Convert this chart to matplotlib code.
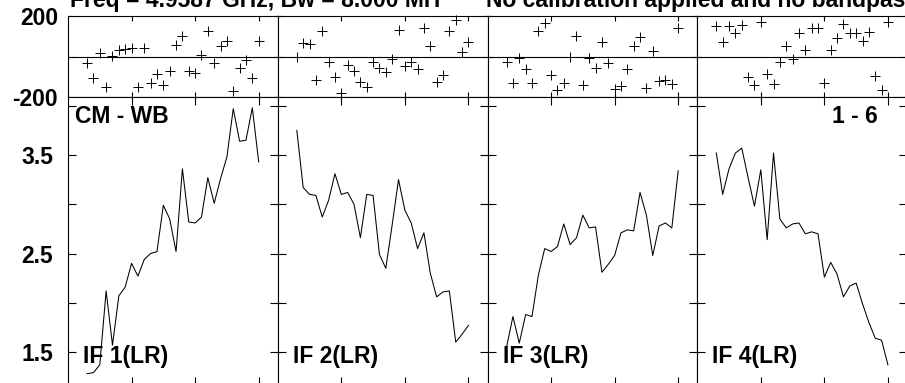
"""POSSM-style cross-power spectrum: phase (top) and amplitude (bottom) for four IFs."""

import matplotlib

matplotlib.use("Agg")
import matplotlib.pyplot as plt
from matplotlib.ticker import FixedLocator, NullFormatter

plt.rcParams["font.family"] = ["Liberation Sans", "DejaVu Sans"]
plt.rcParams["font.weight"] = "bold"

W, H = 905, 383                      # figure size in pixels (dpi 100)

CHANNELS = [3, 4, 5, 6, 7, 8, 9, 10, 11, 12, 13, 14, 15, 16,
            17, 18, 19, 20, 21, 22, 23, 24, 25, 26, 27, 28, 29, 30]
IF_LABELS = ["IF 1(LR)", "IF 2(LR)", "IF 3(LR)", "IF 4(LR)"]

PHASE = [
    [-33, -107, 17, -152, 3, 30, 38, 41, -152, 41, -129, -86, -140, -71,
     58, 102, -71, -83, 5, 124, -33, 50, 79, -169, -58, -17, -107, 79],
    [-2, 66, 63, -116, 124, -28, -102, -178, -41, -74, -124, -152, -25, -58,
     -79, -12, 132, -46, -25, -63, 140, 50, -124, -91, 124, 179, 20, 74],
    [-25, -129, -8, -63, -129, 124, 165, -91, -165, -132, 0, 99, -140, -8,
     -55, 74, -30, -162, -145, -63, 50, 96, -154, 25, -121, -116, -136, 140],
    [152, 74, 152, 116, 157, -99, -140, 169, -86, -136, -25, 50, -13, 116,
     30, 140, 140, -129, 30, 91, 162, 116, 116, 79, 121, -96, -165, 169],
]

AMPLITUDE = [
    [1.28, 1.29, 1.37, 2.12, 1.57, 2.07, 2.16, 2.40, 2.27, 2.44, 2.50, 2.52, 2.99, 2.85,
     2.52, 3.36, 2.82, 2.81, 2.87, 3.27, 3.01, 3.26, 3.48, 3.97, 3.64, 3.65, 3.98, 3.43],
    [3.75, 3.17, 3.10, 3.09, 2.87, 3.04, 3.31, 3.10, 3.12, 3.00, 2.66, 3.10, 3.09, 2.49,
     2.35, 2.79, 3.25, 2.94, 2.81, 2.55, 2.71, 2.30, 2.06, 2.11, 2.12, 1.60, 1.68, 1.77],
    [1.55, 1.86, 1.59, 1.88, 1.86, 2.28, 2.55, 2.52, 2.57, 2.80, 2.59, 2.66, 2.89, 2.76,
     2.77, 2.31, 2.39, 2.48, 2.71, 2.74, 2.73, 3.12, 2.89, 2.48, 2.78, 2.81, 2.76, 3.34],
    [3.52, 3.10, 3.36, 3.52, 3.57, 3.27, 2.98, 3.35, 2.64, 3.52, 2.85, 2.76, 2.80, 2.81,
     2.70, 2.72, 2.70, 2.26, 2.41, 2.29, 2.06, 2.17, 2.20, 1.99, 1.80, 1.64, 1.62, 1.37],
]

X_TICKS = [10, 20, 30]
PHASE_TICKS = [-200, 0, 200]
AMP_TICKS = [1.5, 2.0, 2.5, 3.0, 3.5, 4.0]
AMP_LABELS = {1.5: "1.5", 2.5: "2.5", 3.5: "3.5"}

XLIM = (0, 33)
PHASE_LIM = (-200, 200)
AMP_LIM = (1.165, 4.089)

FS = 16.5
LW = 0.8


def px_box(left, top, width, height):
    """Pixel box (origin top-left) -> figure fraction rect."""
    return [left / W, 1 - (top + height) / H, width / W, height / H]


def style(ax, tick_len):
    for sp in ax.spines.values():
        sp.set_linewidth(LW)
    ax.tick_params(direction="in", length=tick_len, width=LW, color="black",
                   top=True, right=True, left=True, bottom=True, labelsize=FS)
    ax.xaxis.set_major_locator(FixedLocator(X_TICKS))
    ax.xaxis.set_major_formatter(NullFormatter())
    ax.set_xlim(*XLIM)


fig = plt.figure(figsize=(W / 100, H / 100), dpi=100)

panel_w = 209.75
for i in range(4):
    left = 68 + i * panel_w

    ax_p = fig.add_axes(px_box(left, 16, panel_w, 81))
    ax_p.plot(CHANNELS, PHASE[i], "+", color="black", ms=7, mew=0.7, clip_on=False)
    ax_p.axhline(0, color="black", lw=LW)
    ax_p.set_ylim(*PHASE_LIM)
    style(ax_p, 3.6)
    ax_p.yaxis.set_major_locator(FixedLocator(PHASE_TICKS))
    if i == 0:
        ax_p.set_yticklabels(["-200", "", "200"])
        ax_p.tick_params(axis="y", pad=7.2)
    else:
        ax_p.yaxis.set_major_formatter(NullFormatter())

    ax_a = fig.add_axes(px_box(left, 97, panel_w, 288))
    ax_a.plot(CHANNELS, AMPLITUDE[i], color="black", lw=0.75)
    ax_a.set_ylim(*AMP_LIM)
    style(ax_a, 5.8)
    ax_a.yaxis.set_major_locator(FixedLocator(AMP_TICKS))
    if i == 0:
        ax_a.set_yticklabels([AMP_LABELS.get(t, "") for t in AMP_TICKS])
        ax_a.tick_params(axis="y", pad=10.8)
    else:
        ax_a.yaxis.set_major_formatter(NullFormatter())

    fig.text((left + 15) / W, 1 - 363 / H, IF_LABELS[i], fontsize=FS,
             ha="left", va="baseline")

fig.text(75 / W, 1 - 123 / H, "CM - WB", fontsize=FS, ha="left", va="baseline")
fig.text(878 / W, 1 - 123 / H, "1 - 6", fontsize=FS, ha="right", va="baseline")

# header is clipped at the top and right edge, as in the original plot file
fig.text(70 / W, 1 - 7.5 / H, "Freq = 4.9587 GHz, Bw = 8.000 MH", fontsize=FS,
         ha="left", va="baseline")
fig.text(486 / W, 1 - 7.5 / H, "No calibration applied and no bandpass", fontsize=FS,
         ha="left", va="baseline")

fig.savefig("out.png", dpi=100)
